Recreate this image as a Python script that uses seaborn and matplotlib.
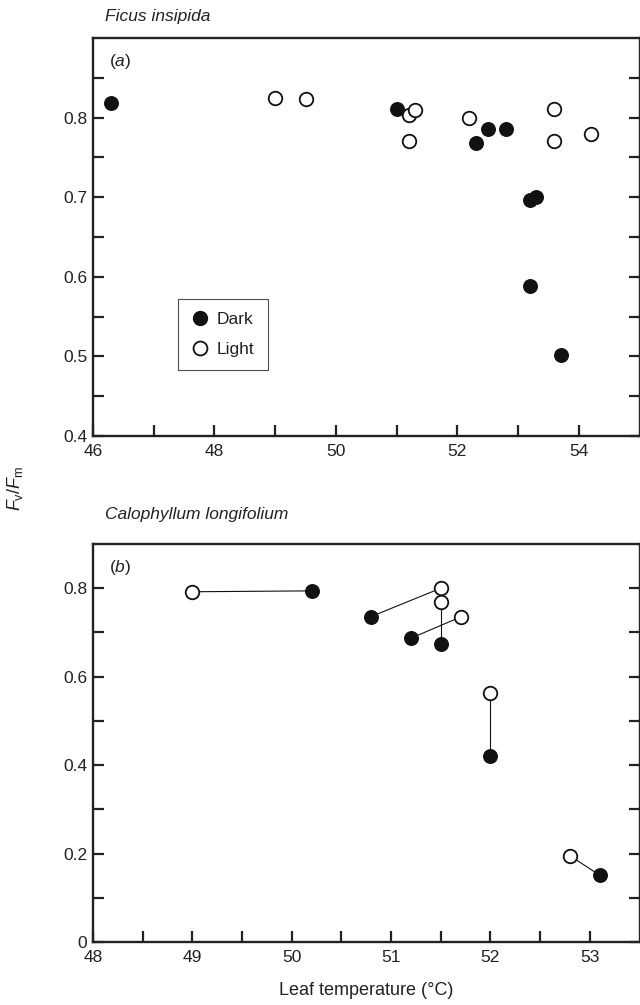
import numpy as np
import pandas as pd
import matplotlib
matplotlib.use("Agg")
import matplotlib.pyplot as plt
import seaborn as sns
from matplotlib.lines import Line2D

# (a) Ficus insipida
dark_x_a = [46.3, 51.0, 52.3, 52.5, 52.8, 53.2, 53.3, 53.2, 53.7]
dark_y_a = [0.818, 0.811, 0.768, 0.786, 0.786, 0.697, 0.700, 0.589, 0.502]
light_x_a = [49.0, 49.5, 51.2, 51.3, 51.2, 52.2, 53.6, 53.6, 54.2]
light_y_a = [0.825, 0.823, 0.803, 0.810, 0.771, 0.799, 0.811, 0.771, 0.779]

# (b) Calophyllum longifolium, dark/light pairs in the same order
dark_x_b = [50.2, 50.8, 51.2, 51.5, 52.0, 53.1]
dark_y_b = [0.794, 0.736, 0.687, 0.674, 0.420, 0.151]
light_x_b = [49.0, 51.5, 51.7, 51.5, 52.0, 52.8]
light_y_b = [0.792, 0.800, 0.735, 0.768, 0.563, 0.195]

sns.set_theme(style="ticks")
plt.rcParams['font.family'] = ['Liberation Sans', 'DejaVu Sans']
plt.rcParams['mathtext.fontset'] = 'custom'
plt.rcParams['mathtext.rm'] = 'Liberation Sans'
plt.rcParams['mathtext.it'] = 'Liberation Sans:italic'
fs = 12.5
ink = "#222222"

W, H = 640, 1005
fig = plt.figure(figsize=(W / 100, H / 100), dpi=100)

left = 93 / W
right = 639.5 / W
ax_a = fig.add_axes([left, 1 - 436 / H, right - left, (436 - 38) / H])
ax_b = fig.add_axes([left, 1 - 942 / H, right - left, (942 - 544) / H])

ms = 95
dark_kw = dict(color="#111111", edgecolor="#111111", s=ms, linewidth=1.0, zorder=3)
light_kw = dict(color="white", edgecolor="#111111", s=ms, linewidth=1.3, zorder=3)

# panel a
df_a_dark = pd.DataFrame({"x": dark_x_a, "y": dark_y_a})
df_a_light = pd.DataFrame({"x": light_x_a, "y": light_y_a})
sns.scatterplot(data=df_a_light, x="x", y="y", ax=ax_a, **light_kw)
sns.scatterplot(data=df_a_dark, x="x", y="y", ax=ax_a, **dark_kw)

# panel b with connecting lines
n = len(dark_x_b)
pairs = pd.DataFrame({
    "pair": list(range(n)) * 2,
    "x": dark_x_b + light_x_b,
    "y": dark_y_b + light_y_b,
})
sns.lineplot(data=pairs, x="x", y="y", units="pair", estimator=None, sort=False,
             color="#111111", linewidth=0.8, ax=ax_b, legend=False, zorder=1)
sns.scatterplot(data=pd.DataFrame({"x": light_x_b, "y": light_y_b}), x="x", y="y",
                ax=ax_b, **light_kw)
sns.scatterplot(data=pd.DataFrame({"x": dark_x_b, "y": dark_y_b}), x="x", y="y",
                ax=ax_b, **dark_kw)

# axes styling
ax_a.set_xlim(46, 55)
ax_a.set_ylim(0.4, 0.9)
ax_a.set_xticks([46, 48, 50, 52, 54])
ax_a.set_xticks([47, 49, 51, 53], minor=True)
ax_a.set_yticks([0.4, 0.5, 0.6, 0.7, 0.8])
ax_a.set_yticklabels(["0.4", "0.5", "0.6", "0.7", "0.8"])
ax_a.set_yticks([0.45, 0.55, 0.65, 0.75, 0.85], minor=True)

ax_b.set_xlim(48, 53.5)
ax_b.set_ylim(0, 0.9)
ax_b.set_xticks([48, 49, 50, 51, 52, 53])
ax_b.set_xticks([48.5, 49.5, 50.5, 51.5, 52.5], minor=True)
ax_b.set_yticks([0, 0.2, 0.4, 0.6, 0.8])
ax_b.set_yticklabels(["0", "0.2", "0.4", "0.6", "0.8"])
ax_b.set_yticks([0.1, 0.3, 0.5, 0.7], minor=True)

for ax in (ax_a, ax_b):
    ax.set_xlabel("")
    ax.set_ylabel("")
    for sp in ax.spines.values():
        sp.set_visible(True)
        sp.set_linewidth(1.7)
        sp.set_color(ink)
    ax.tick_params(axis="both", which="both", direction="in", length=8, width=1.6,
                   color=ink, labelsize=fs, labelcolor=ink)
    ax.tick_params(axis="y", which="both", left=True, right=True, pad=4)
    ax.tick_params(axis="x", which="both", bottom=True, top=False, pad=6)

ax_a.text(0.03, 0.94, r"($\it{a}$)", transform=ax_a.transAxes, fontsize=fs,
          va="center", ha="left", color=ink)
ax_b.text(0.03, 0.94, r"($\it{b}$)", transform=ax_b.transAxes, fontsize=fs,
          va="center", ha="left", color=ink)

fig.text(105 / W, 1 - 17 / H, "Ficus insipida", fontsize=fs, style="italic",
         ha="left", va="center", color=ink)
fig.text(105 / W, 1 - 515 / H, "Calophyllum longifolium", fontsize=fs, style="italic",
         ha="left", va="center", color=ink)

fig.text(15 / W, 1 - 488 / H, r"$F_{\mathrm{v}}/F_{\mathrm{m}}$", rotation=90,
         fontsize=13, ha="center", va="center", color=ink)
fig.text((93 + 640) / 2 / W, 1 - 990 / H, "Leaf temperature (\u00b0C)", fontsize=13,
         ha="center", va="center", color=ink)

handles = [
    Line2D([], [], marker="o", linestyle="none", markersize=10,
           markerfacecolor="#111111", markeredgecolor="#111111", label="Dark"),
    Line2D([], [], marker="o", linestyle="none", markersize=10,
           markerfacecolor="white", markeredgecolor="#111111", markeredgewidth=1.3,
           label="Light"),
]
leg = ax_a.legend(handles=handles, loc="upper left",
                  bbox_to_anchor=((178 - 93) / (639.5 - 93), 1 - (299 - 38) / (436 - 38)),
                  frameon=True, fancybox=False, fontsize=fs, handletextpad=0.5,
                  handlelength=1.0, borderpad=0.75, labelspacing=0.85, borderaxespad=0)
leg.get_frame().set_edgecolor(ink)
leg.get_frame().set_linewidth(0.8)
for t in leg.get_texts():
    t.set_color(ink)

fig.savefig("out.png", dpi=100)
